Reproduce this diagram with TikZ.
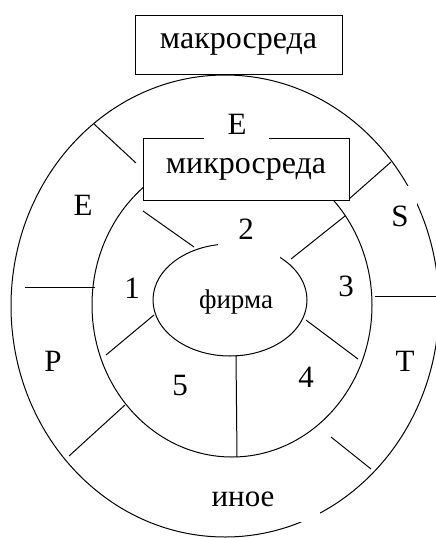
\documentclass[tikz,border=0pt]{standalone}
\usepackage{fontspec}
\setmainfont{Liberation Serif}
\tikzset{
  line/.style={line width=1pt},
  lbl/.style={font=\fontsize{31}{31}\selectfont, inner sep=0pt},
  boxlbl/.style={draw, line width=1pt, fill=white, inner sep=0pt, font=\fontsize{32}{32}\selectfont},
  blank/.style={fill=white, draw=none}
}
\begin{document}
\begin{tikzpicture}[x=1pt,y=-1pt]
\useasboundingbox (0,0) rectangle (436,538);
% outer (macro) ellipse
\draw[line] (225,306) ellipse [x radius=214, y radius=231];
% inner (micro) ellipse
\draw[line] (232,305) ellipse [x radius=140, y radius=152];
% firm ellipse
\draw[line] (230,300) ellipse [x radius=77, y radius=56];
% outer ring dividers
\coordinate (o1a) at (94,124);  \coordinate (o1b) at (136,163);
\coordinate (o2a) at (391,162); \coordinate (o2b) at (349,199);
\coordinate (o3a) at (25,287);  \coordinate (o3b) at (95,287);
\coordinate (o4a) at (375,296); \coordinate (o4b) at (436,296);
\coordinate (o5a) at (125,405); \coordinate (o5b) at (69,456);
\coordinate (o6a) at (331,437); \coordinate (o6b) at (371,469);
\draw[line] (o1a) -- (o1b);
\draw[line] (o2a) -- (o2b);
\draw[line] (o3a) -- (o3b);
\draw[line] (o4a) -- (o4b);
\draw[line] (o5a) -- (o5b);
\draw[line] (o6a) -- (o6b);
% inner ring dividers
\coordinate (i1a) at (143,211); \coordinate (i1b) at (194,247);
\coordinate (i2a) at (345,216); \coordinate (i2b) at (291,259);
\coordinate (i3a) at (154,315); \coordinate (i3b) at (106,355);
\coordinate (i4a) at (306,320); \coordinate (i4b) at (358,359);
\coordinate (i5a) at (236,355); \coordinate (i5b) at (237,457);
\draw[line] (i1a) -- (i1b);
\draw[line] (i2a) -- (i2b);
\draw[line] (i3a) -- (i3b);
\draw[line] (i4a) -- (i4b);
\draw[line] (i5a) -- (i5b);
% white gaps behind labels
\fill[white] (218,214) rectangle (280,258);
\fill[white] (383,186) rectangle (417,246);
\fill[white] (166,475) rectangle (320,522);
% boxes
\node[boxlbl, minimum width=207, minimum height=59] (macro) at (238.5,44.5) {макросреда};
\node[boxlbl, minimum width=206, minimum height=62] (micro) at (246,169) {микросреда};
\fill[white] (204,112) rectangle (269,140);
% labels
\node[lbl] (eTop) at (237,124) {E};
\node[lbl] (eLeft) at (83,205) {E};
\node[lbl] (s) at (400,216) {S};
\node[lbl] (p) at (53,361) {P};
\node[lbl] (t) at (405,361) {T};
\node[lbl] (n1) at (132,288) {1};
\node[lbl] (n2) at (246,229) {2};
\node[lbl] (n3) at (346,286) {3};
\node[lbl] (n4) at (306,377) {4};
\node[lbl] (n5) at (180,385) {5};
\node[lbl, font=\fontsize{27}{27}\selectfont] (firm) at (236,302) {фирма};
\node[lbl] (other) at (243,499) {иное};
\end{tikzpicture}
\end{document}
